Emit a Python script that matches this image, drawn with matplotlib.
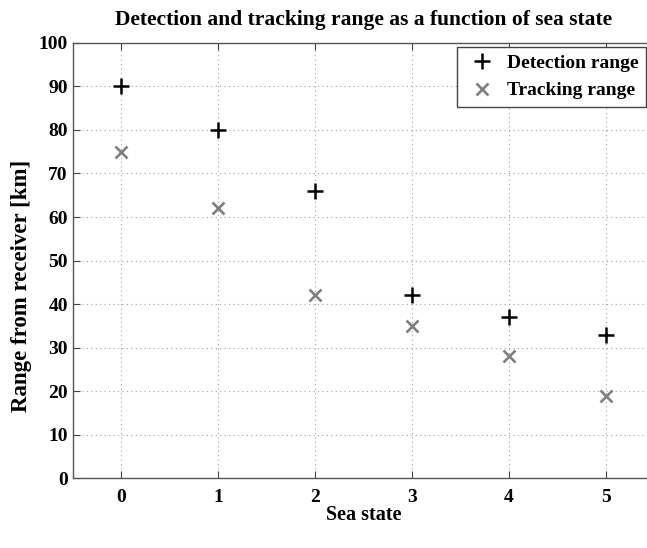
import matplotlib
matplotlib.use("Agg")
import matplotlib.pyplot as plt

sea_state = [0, 1, 2, 3, 4, 5]
detection = [90, 80, 66, 42, 37, 33]
tracking = [75, 62, 42, 35, 28, 19]

plt.rcParams['font.family'] = ['Liberation Serif', 'DejaVu Serif']
plt.rcParams['font.weight'] = 'bold'

W, H = 647, 548
fig = plt.figure(figsize=(W / 100, H / 100), dpi=100)
ax_l, ax_r, ax_t, ax_b = 72.7, 654.5, 42.8, 478.4
ax = fig.add_axes([ax_l / W, 1 - ax_b / H, (ax_r - ax_l) / W, (ax_b - ax_t) / H])

ax.plot(sea_state, detection, linestyle='none', marker='+', color='black',
        markersize=11.5, markeredgewidth=1.8, label='Detection range')
ax.plot(sea_state, tracking, linestyle='none', marker='x', color='#808080',
        markersize=8, markeredgewidth=1.9, label='Tracking range')

ax.set_xlim(-0.5, 5.5)
ax.set_ylim(0, 100)
ax.set_xticks(sea_state)
ax.set_yticks(range(0, 101, 10))
ax.grid(True, linestyle=(0, (1, 3)), color='#a0a0a0', linewidth=0.8)
ax.tick_params(direction='in', length=5, labelsize=14, top=True, right=True,
               color='#444444')
ax.tick_params(axis='y', pad=3.5)
ax.tick_params(axis='x', pad=7.5)
for lab in ax.get_xticklabels() + ax.get_yticklabels():
    lab.set_fontweight('bold')
for s in ax.spines.values():
    s.set_color('#555555')
    s.set_linewidth(1)

ax.set_xlabel('Sea state', fontsize=14.5, fontweight='bold')
ax.xaxis.set_label_coords(0.5, -0.062)
ax.set_ylabel('Range from receiver [km]', fontsize=16.5, fontweight='bold',
              va='center')
ax.yaxis.set_label_coords((22 - ax_l) / (ax_r - ax_l), (ax_b - 285.5) / (ax_b - ax_t))
ax.set_title('Detection and tracking range as a function of sea state',
             fontsize=15.5, fontweight='bold', pad=13)

leg = ax.legend(loc='upper right', fontsize=14, fancybox=False, framealpha=1,
                edgecolor='#444444', borderaxespad=0,
                bbox_to_anchor=(646 / W, 1 - 46.6 / H), bbox_transform=fig.transFigure,
                handlelength=1.8, handletextpad=0.35, borderpad=0.4)
leg.get_frame().set_linewidth(1)

fig.savefig('out.png', dpi=100)
